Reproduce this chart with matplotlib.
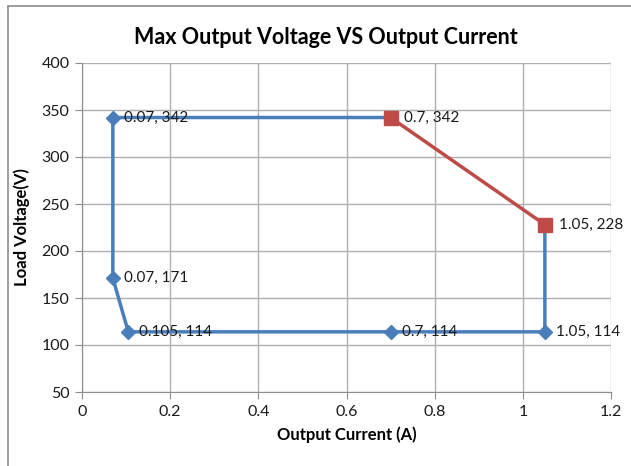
import matplotlib.pyplot as plt
from matplotlib.patches import Rectangle

# blue series: constant power / current limits
blue_x = [0.7, 0.07, 0.07, 0.105, 0.7, 1.05, 1.05]
blue_y = [342, 342, 171, 114, 114, 114, 228]
blue_labels = [None, "0.07, 342", "0.07, 171", "0.105, 114", "0.7, 114", "1.05, 114", None]

# red series: power-limited section
red_x = [0.7, 1.05]
red_y = [342, 228]
red_labels = ["0.7, 342", "1.05, 228"]

xticks = [0, 0.2, 0.4, 0.6, 0.8, 1, 1.2]
yticks = [50, 100, 150, 200, 250, 300, 350, 400]

plt.rcParams['font.family'] = ['Lato', 'DejaVu Sans']

fig = plt.figure(figsize=(6.31, 4.66), dpi=100)
fig.patches.append(Rectangle((8 / 631, -0.1), 1.2, 1.1 - 6 / 466, transform=fig.transFigure,
                             fill=False, edgecolor='#8c8c8c', linewidth=1.2))
ax = fig.add_axes([82 / 631, 1 - 392 / 466, 529 / 631, 329 / 466])

ax.plot(blue_x, blue_y, color='#4a7ebb', linewidth=2.5, marker='D', markersize=7,
        markevery=[1, 2, 3, 4, 5], zorder=3)
ax.plot(red_x, red_y, color='#be4b48', linewidth=2.5, marker='s', markersize=10, zorder=4)

for x, y, t in zip(blue_x, blue_y, blue_labels):
    if t:
        ax.annotate(t, (x, y), xytext=(8, 0), textcoords='offset points',
                    va='center', ha='left', fontsize=11, color='#1a1a1a')
for x, y, t in zip(red_x, red_y, red_labels):
    ax.annotate(t, (x, y), xytext=(10, 0), textcoords='offset points',
                va='center', ha='left', fontsize=11, color='#1a1a1a')

ax.set_xlim(0, 1.2)
ax.set_ylim(50, 400)
ax.set_xticks(xticks)
ax.set_xticklabels(['0', '0.2', '0.4', '0.6', '0.8', '1', '1.2'])
ax.set_yticks(yticks)
ax.grid(True, color='#b0b0b0', linewidth=1)
ax.set_axisbelow(True)
for s in ['top', 'right']:
    ax.spines[s].set_visible(False)
for s in ['left', 'bottom']:
    ax.spines[s].set_color('#8c8c8c')
ax.tick_params(length=5, color='#8c8c8c', labelsize=11.5, labelcolor='#1a1a1a', pad=4)

fig.text(326 / 631, 1 - 38 / 466, "Max Output Voltage VS Output Current", fontsize=15.5,
         fontweight='bold', ha='center', va='center')
ax.set_xlabel("Output Current (A)", fontsize=12, fontweight='bold', labelpad=6)
ax.set_ylabel("Load Voltage(V)", fontsize=12, fontweight='bold', labelpad=8)

fig.savefig("out.png", dpi=100)
